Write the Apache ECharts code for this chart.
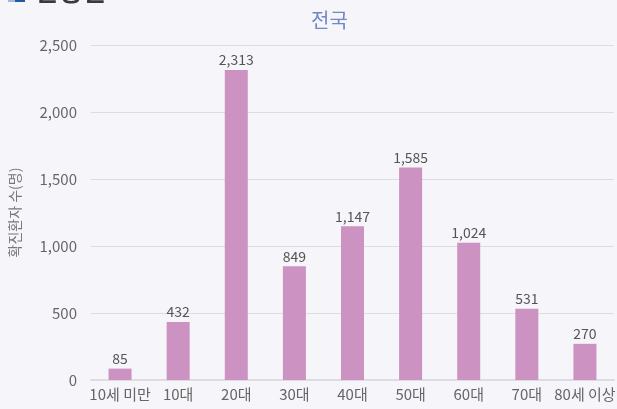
<!DOCTYPE html>
<html>
<head>
<meta charset="utf-8">
<script src="https://cdn.jsdelivr.net/npm/echarts@6/dist/echarts.min.js"></script>
<style>
html, body { margin: 0; padding: 0; background: #f6f5fa; }
#main { width: 617px; height: 409px; }
</style>
</head>
<body>
<div id="main"></div>
<script>
// 연령별 확진환자 (전국)
var categories = ['10세 미만', '10대', '20대', '30대', '40대', '50대', '60대', '70대', '80세 이상'];
var cases = [85, 432, 2313, 849, 1147, 1585, 1024, 531, 270];
var yTicks = [0, 500, 1000, 1500, 2000, 2500];

var chart = echarts.init(document.getElementById('main'));
var font = '"Noto Sans CJK KR", "Noto Sans", sans-serif';

var option = {
    backgroundColor: '#f6f5fa',
    textStyle: { fontFamily: font },
    title: {
        text: '전국',
        left: 306,
        top: 5,
        textStyle: { color: '#7088c8', fontSize: 20, fontWeight: 'normal', fontFamily: font }
    },
    graphic: [
        { type: 'rect', shape: { x: 8, y: -12, width: 17, height: 14 }, style: { fill: '#1f5aa6' } },
        { type: 'rect', shape: { x: 8, y: -12, width: 7, height: 14 }, style: { fill: '#a9b6dc' } },
        {
            type: 'text', left: 34, top: -22,
            style: { text: '연령별', fill: '#3a3a3a', font: 'bold 26px ' + font }
        }
    ],
    // 라벨이 잘려도 그리드는 줄이지 않음
    grid: { left: 91, right: 3, top: 45, bottom: 29, outerBoundsMode: 'none', containLabel: false },
    xAxis: {
        type: 'category',
        data: categories,
        axisLine: { lineStyle: { color: '#dcdce2', width: 2 } },
        axisTick: { show: false },
        axisLabel: { color: '#666', fontSize: 15, margin: 7, interval: 0 }
    },
    yAxis: {
        type: 'value',
        min: yTicks[0],
        max: yTicks[yTicks.length - 1],
        interval: 500,
        name: '확진환자 수(명)',
        nameLocation: 'middle',
        nameGap: 69,
        nameTextStyle: { color: '#777', fontSize: 14 },
        axisLine: { show: false },
        axisTick: { show: false },
        splitLine: { lineStyle: { color: '#dcdce2' } },
        axisLabel: {
            color: '#666', fontSize: 15, margin: 14,
            formatter: function (v) { return v.toLocaleString('en-US'); }
        }
    },
    series: [
        {
            type: 'bar',
            data: cases,
            barWidth: 23,
            itemStyle: { color: '#cc92c2' },
            label: {
                show: true,
                position: 'top',
                color: '#555',
                fontSize: 14,
                distance: 3,
                formatter: function (p) { return p.value.toLocaleString('en-US'); }
            }
        }
    ]
};

chart.setOption(option);
</script>
</body>
</html>
